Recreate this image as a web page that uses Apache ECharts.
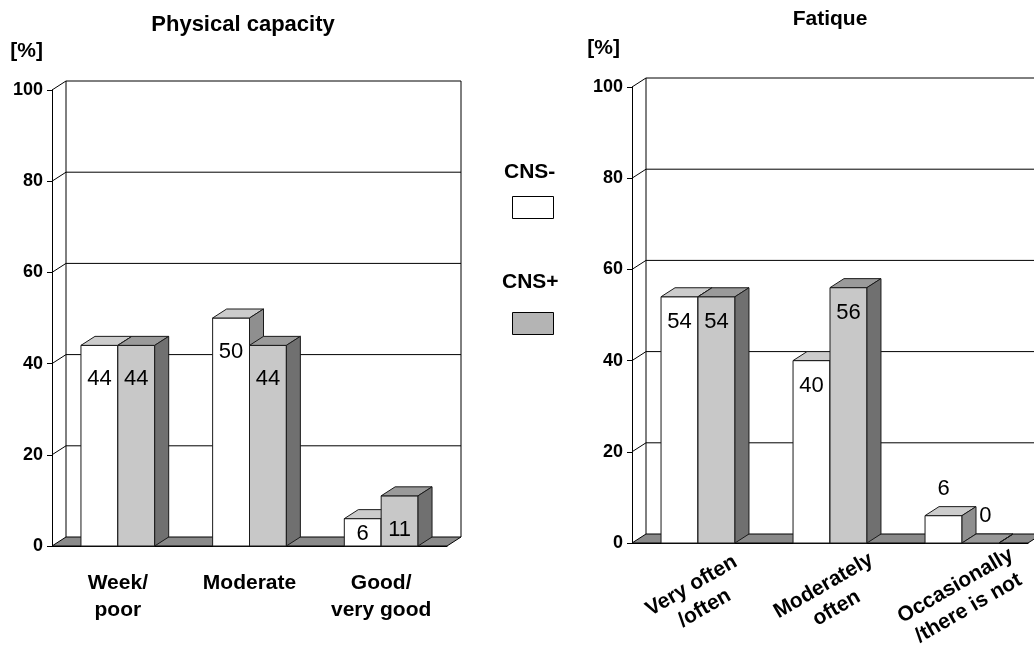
<!DOCTYPE html>
<html>
<head>
<meta charset="utf-8">
<script src="https://cdn.jsdelivr.net/npm/echarts@6/dist/echarts.min.js"></script>
<style>
  html, body { margin: 0; padding: 0; background: #fff; }
  #chart { width: 1034px; height: 649px; }
</style>
</head>
<body>
<div id="chart"></div>
<script>
const seriesNames = ['CNS-', 'CNS+']

const physCategories = ['Week/\npoor', 'Moderate', 'Good/\nvery good']
const physCnsMinus = [44, 50, 6]
const physCnsPlus = [44, 44, 11]

const fatCategories = ['Very often\n/often', 'Moderately\noften', 'Occasionally\n/there is not']
const fatCnsMinus = [54, 40, 6]
const fatCnsPlus = [54, 56, 0]

const yMax = 100
const yStep = 20

// depth of the fake 3d look, in px
const DX = 14
const DY = -9
const FONT = 'Liberation Sans, Arial, sans-serif'

const faces = [
  { front: '#ffffff', top: '#cccccc', side: '#8f8f8f', legend: '#ffffff' },
  { front: '#c8c8c8', top: '#9a9a9a', side: '#707070', legend: '#b4b4b4' }
]

// back wall, gridlines and floor
const renderWall = (params, api) => {
  const cs = params.coordSys
  const x0 = cs.x
  const x1 = cs.x + cs.width
  const yb = api.coord([0, 0])[1]
  const yt = api.coord([0, yMax])[1]
  const line = (a, b, c, d) => ({
    type: 'line',
    shape: { x1: a, y1: b, x2: c, y2: d },
    style: { stroke: '#000', lineWidth: 1 }
  })
  const children = []
  children.push({
    type: 'rect',
    shape: { x: x0 + DX, y: yt + DY, width: cs.width, height: yb - yt },
    style: { fill: '#fff' }
  })
  for (let v = yStep; v <= yMax; v += yStep) {
    const y = api.coord([0, v])[1]
    children.push(line(x0 + DX, y + DY, x1 + DX, y + DY))
    children.push(line(x0, y, x0 + DX, y + DY))
  }
  children.push(line(x0 + DX, yt + DY, x0 + DX, yb + DY))
  children.push(line(x1 + DX, yt + DY, x1 + DX, yb + DY))
  children.push({
    type: 'polygon',
    shape: { points: [[x0, yb], [x1, yb], [x1 + DX, yb + DY], [x0 + DX, yb + DY]] },
    style: { fill: '#8a8a8a', stroke: '#000', lineWidth: 1 }
  })
  return { type: 'group', children }
}

const labelLeft = (v, yt, yb) => Math.min(yt + 34, yb - 12)
const labelRight = (v, yt, yb) => (v < 10 ? yt - 27 : yt + 25)

const makeBar = (k, labelY) => (params, api) => {
  const ci = api.value(0)
  const v = api.value(1)
  const base = api.coord([ci, 0])
  const top = api.coord([ci, v])
  const w = api.size([1, 0])[0] * 0.28
  const xl = k === 0 ? base[0] - w : base[0]
  const xr = xl + w
  const yb = base[1]
  const yt = top[1]
  const f = faces[k]
  const stroke = { stroke: '#1a1a1a', lineWidth: 1 }
  return {
    type: 'group',
    children: [
      { type: 'rect', shape: { x: xl, y: yt, width: w, height: yb - yt }, style: { fill: f.front, ...stroke } },
      { type: 'polygon', shape: { points: [[xl, yt], [xr, yt], [xr + DX, yt + DY], [xl + DX, yt + DY]] }, style: { fill: f.top, ...stroke } },
      { type: 'polygon', shape: { points: [[xr, yt], [xr + DX, yt + DY], [xr + DX, yb + DY], [xr, yb]] }, style: { fill: f.side, ...stroke } },
      {
        type: 'text',
        z2: 10,
        style: {
          text: String(v),
          x: (xl + xr) / 2 + (v === 0 ? 5 : 0),
          y: labelY(v, yt, yb),
          align: 'center',
          verticalAlign: 'middle',
          fontSize: 22,
          fontFamily: FONT,
          fill: '#000'
        }
      }
    ]
  }
}

const toData = (arr) => arr.map((v, i) => [i, v])

const chart = echarts.init(document.getElementById('chart'))

const axisText = { color: '#000', fontFamily: FONT, fontWeight: 'bold' }

const xAxisBase = (gi, cats, label) => ({
  gridIndex: gi,
  type: 'category',
  data: cats,
  axisLine: { lineStyle: { color: '#000', width: 1 } },
  axisTick: { length: 6, lineStyle: { color: '#000' } },
  axisLabel: { interval: 0, fontSize: 21, ...axisText, ...label }
})

const yAxisBase = (gi, padRight) => ({
  gridIndex: gi,
  type: 'value',
  min: 0,
  max: yMax,
  interval: yStep,
  name: '[%]',
  nameLocation: 'end',
  nameGap: 28,
  nameTextStyle: { fontSize: 21, ...axisText, align: 'right', padding: [0, padRight, 0, 0] },
  axisLine: { show: true, lineStyle: { color: '#000', width: 1 } },
  axisTick: { show: true, length: 5, lineStyle: { color: '#000' } },
  splitLine: { show: false },
  axisLabel: { fontSize: 18, margin: 9, ...axisText }
})

const option = {
  animation: false,
  backgroundColor: '#fff',
  title: [
    { text: 'Physical capacity', left: 238, top: 9, textAlign: 'center', textStyle: { fontSize: 22, ...axisText } },
    { text: 'Fatique', left: 825, top: 4, textAlign: 'center', textStyle: { fontSize: 21, ...axisText } }
  ],
  grid: [
    { left: 52, top: 90, width: 395, height: 456, outerBoundsMode: 'none' },
    { left: 632, top: 87, width: 396, height: 456, outerBoundsMode: 'none' }
  ],
  xAxis: [
    xAxisBase(0, physCategories, { margin: 24, lineHeight: 27 }),
    xAxisBase(1, fatCategories, { rotate: 30, align: 'center', verticalAlign: 'middle', margin: 54, lineHeight: 26 })
  ],
  yAxis: [yAxisBase(0, 9), yAxisBase(1, 12)],
  graphic: [
    { type: 'text', left: 504, top: 162, style: { text: seriesNames[0], fontSize: 21, ...axisText, fill: '#000' } },
    { type: 'rect', left: 512, top: 196, shape: { width: 41, height: 22 }, style: { fill: faces[0].legend, stroke: '#000', lineWidth: 1 } },
    { type: 'text', left: 502, top: 272, style: { text: seriesNames[1], fontSize: 21, ...axisText, fill: '#000' } },
    { type: 'rect', left: 512, top: 312, shape: { width: 41, height: 22 }, style: { fill: faces[1].legend, stroke: '#000', lineWidth: 1 } }
  ],
  series: [
    { type: 'custom', name: 'wall', xAxisIndex: 0, yAxisIndex: 0, data: [[0, 0]], renderItem: renderWall, silent: true },
    { type: 'custom', name: seriesNames[0], xAxisIndex: 0, yAxisIndex: 0, data: toData(physCnsMinus), encode: { x: 0, y: 1 }, renderItem: makeBar(0, labelLeft) },
    { type: 'custom', name: seriesNames[1], xAxisIndex: 0, yAxisIndex: 0, data: toData(physCnsPlus), encode: { x: 0, y: 1 }, renderItem: makeBar(1, labelLeft) },
    { type: 'custom', name: 'wall', xAxisIndex: 1, yAxisIndex: 1, data: [[0, 0]], renderItem: renderWall, silent: true },
    { type: 'custom', name: seriesNames[0], xAxisIndex: 1, yAxisIndex: 1, data: toData(fatCnsMinus), encode: { x: 0, y: 1 }, renderItem: makeBar(0, labelRight) },
    { type: 'custom', name: seriesNames[1], xAxisIndex: 1, yAxisIndex: 1, data: toData(fatCnsPlus), encode: { x: 0, y: 1 }, renderItem: makeBar(1, labelRight) }
  ]
}

chart.setOption(option)
</script>
</body>
</html>
